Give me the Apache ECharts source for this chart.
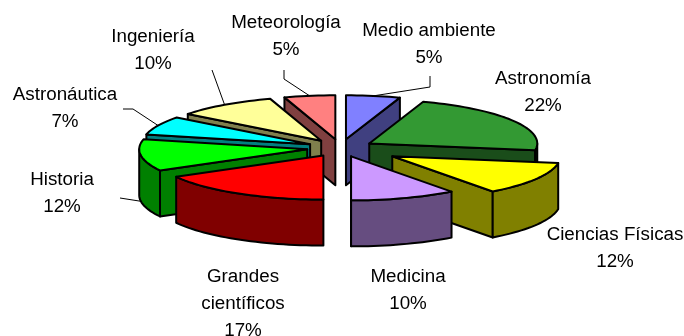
<!DOCTYPE html>
<html>
<head>
<meta charset="utf-8">
<style>
  html, body { margin: 0; padding: 0; background: #fff; }
  #chart { width: 684px; height: 336px; }
</style>
<script src="https://cdn.jsdelivr.net/npm/echarts@6/dist/echarts.min.js"></script>
</head>
<body>
<div id="chart"></div>
<script>
const categories = ['Medio ambiente', 'Astronomía', 'Ciencias Físicas', 'Medicina', 'Grandes\ncientíficos', 'Historia', 'Astronáutica', 'Ingeniería', 'Meteorología']
// the labels show them rounded
const values = [5.2, 22.3, 12.3, 10.2, 17, 11.6, 6.8, 9.7, 4.9]

const topColors = ['#8080FF', '#339933', '#FFFF00', '#CC99FF', '#FF0000', '#00FF00', '#00FFFF', '#FFFF99', '#FF8080']
const wallColors = ['#404080', '#1A4D1A', '#808000', '#664D80', '#800000', '#008000', '#008080', '#80804D', '#804040']
// how far each slice is pulled out of the pie
const explode = [0.2, 0.2, 0.36, 0.2, 0.2, 0.2, 0.2, 0.2, 0.2]

// label centre, first line
const labelPos = [[429, 31], [543, 79], [615, 235], [408, 277], [243, 277], [62, 180], [65, 95], [153, 37], [286, 23]]
// leader line points from the label to the slice, null when there is none
const leaders = [
  [[430, 76], [430, 87]],
  null, null, null, null,
  [[120, 198]],
  [[123, 109], [133, 109]],
  [[212, 70]],
  [[284, 70], [284, 79]],
]

const CX = 340.5
const CY = 148
const RX = 168
const RY = 44
const DEPTH = 46
const LINE_H = 27

const total = values.reduce((a, b) => a + b, 0)
const DEG = Math.PI / 180

// start / end angle of each slice, clockwise from the top
let acc = 0
const slices = values.map((v, i) => {
  const start = (acc / total) * 360
  acc += v
  const end = (acc / total) * 360
  const mid = ((start + end) / 2) * DEG
  return {
    start,
    end,
    mid,
    ax: CX + explode[i] * RX * Math.sin(mid),
    ay: CY - explode[i] * RY * Math.cos(mid),
  }
})

function rimPoint(s, deg) {
  return [s.ax + RX * Math.sin(deg * DEG), s.ay - RY * Math.cos(deg * DEG)]
}
function arcPoints(s, from, to) {
  const pts = []
  const n = Math.max(2, Math.ceil((to - from) / 2))
  for (let k = 0; k <= n; k++) {
    pts.push(rimPoint(s, from + ((to - from) * k) / n))
  }
  return pts
}
function down(p) {
  return [p[0], p[1] + DEPTH]
}
function face(points, fill) {
  return {
    type: 'polygon',
    shape: { points },
    style: { fill, stroke: '#000', lineWidth: 2, lineJoin: 'round' },
  }
}

function renderSlice(params, api) {
  const i = api.value(0)
  const s = slices[i]
  const apex = [s.ax, s.ay]
  const wall = wallColors[i]
  const children = []

  // cut faces, only the ones turned to the viewer
  if (Math.sin(s.start * DEG) < 0) {
    const p = rimPoint(s, s.start)
    children.push(face([apex, p, down(p), down(apex)], wall))
  }
  if (Math.sin(s.end * DEG) > 0) {
    const p = rimPoint(s, s.end)
    children.push(face([apex, p, down(p), down(apex)], wall))
  }
  // outer wall, front half of the rim
  const from = Math.max(s.start, 90)
  const to = Math.min(s.end, 270)
  if (to > from) {
    const arc = arcPoints(s, from, to)
    children.push(face(arc.concat(arc.map(down).reverse()), wall))
  }
  children.push(face([apex].concat(arcPoints(s, s.start, s.end)), topColors[i]))
  return { type: 'group', children }
}

function renderLabel(params, api) {
  const i = api.value(0)
  const s = slices[i]
  const children = [
    {
      type: 'text',
      style: {
        x: labelPos[i][0],
        y: labelPos[i][1] - LINE_H / 2,
        text: categories[i] + '\n' + Math.round((values[i] / total) * 100) + '%',
        fill: '#000',
        font: '18.8px "Liberation Sans", Arial, sans-serif',
        lineHeight: LINE_H,
        align: 'center',
        verticalAlign: 'top',
      },
    },
  ]
  if (leaders[i]) {
    // front slices get the line on the wall, the others on the rim
    const rim = rimPoint(s, s.mid / DEG)
    const end = Math.cos(s.mid) < 0 ? down(rim) : rim
    children.push({
      type: 'polyline',
      shape: { points: leaders[i].concat([end]) },
      style: { fill: null, stroke: '#000', lineWidth: 1 },
    })
  }
  return { type: 'group', children }
}

// paint the back slices first
const order = values.map((v, i) => i).sort((a, b) => Math.cos(slices[b].mid) - Math.cos(slices[a].mid))

const chart = echarts.init(document.getElementById('chart'))
chart.setOption({
  backgroundColor: '#fff',
  animation: false,
  series: [
    {
      type: 'custom',
      coordinateSystem: 'none',
      renderItem: renderSlice,
      data: order.map((i) => [i]),
      silent: true,
    },
    {
      type: 'custom',
      coordinateSystem: 'none',
      renderItem: renderLabel,
      data: values.map((v, i) => [i]),
      silent: true,
      z: 3,
    },
  ],
})
window.addEventListener('resize', function () {
  chart.resize()
})
</script>
</body>
</html>
